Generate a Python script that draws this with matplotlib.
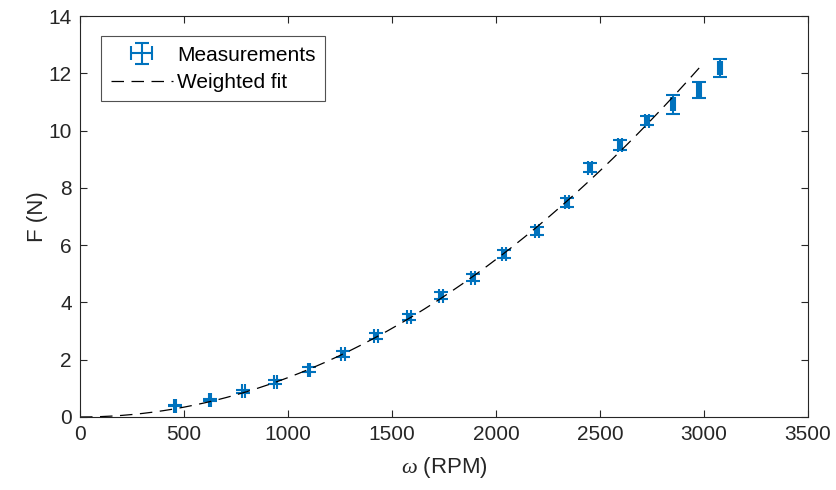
import matplotlib
matplotlib.use("Agg")
import matplotlib.pyplot as plt
import numpy as np

# measured thrust vs rotor speed
rpm = [457, 625, 784, 938, 1101, 1264, 1423, 1582, 1736, 1889,
       2038, 2197, 2341, 2452, 2596, 2726, 2851, 2976, 3077]
force = [0.40, 0.60, 0.90, 1.22, 1.65, 2.20, 2.83, 3.50, 4.23, 4.87,
         5.70, 6.50, 7.50, 8.70, 9.50, 10.35, 10.92, 11.42, 12.20]
rpm_err = [6, 6, 7, 7, 7, 8, 8, 8, 8, 8,
           8, 8, 8, 8, 8, 8, 8, 8, 10]
force_err = [0.03, 0.04, 0.05, 0.07, 0.08, 0.09, 0.10, 0.11, 0.12, 0.12,
             0.13, 0.15, 0.15, 0.16, 0.16, 0.16, 0.33, 0.28, 0.31]

# weighted fit F = k * w^2 (coefficient)
fit_k = 1.376e-6
fit_max = 3000

plt.rcParams['font.family'] = ['Liberation Sans', 'DejaVu Sans']
plt.rcParams['mathtext.fontset'] = 'custom'
plt.rcParams['mathtext.it'] = 'Liberation Serif:italic'

blue = '#0072BD'
grey = '#262626'

fig = plt.figure(figsize=(8.37, 4.90), dpi=100)
ax = fig.add_axes([0.0956, 0.149, 0.8698, 0.818])

meas = ax.errorbar(rpm, force, yerr=force_err, xerr=rpm_err, fmt='none',
                   ecolor=blue, elinewidth=1.5, capsize=4.7, capthick=1.5)

w = np.linspace(0, fit_max, 300)
fit, = ax.plot(w, fit_k * w ** 2, color='k', lw=0.9, dashes=(10, 6))

ax.set_xlim(0, 3500)
ax.set_ylim(0, 14)
ax.set_xticks(np.arange(0, 3501, 500))
ax.set_yticks(np.arange(0, 15, 2))
ax.tick_params(direction='in', top=True, right=True, length=5,
               width=0.8, colors=grey, labelsize=15, pad=6)
for s in ax.spines.values():
    s.set_color(grey)
    s.set_linewidth(0.8)

ax.set_xlabel(r'$\omega$ (RPM)', fontsize=16, color=grey, labelpad=8)
ax.set_ylabel('F (N)', fontsize=16, color=grey, labelpad=0)

leg = ax.legend([meas, fit], ['Measurements', 'Weighted fit'],
                loc='upper left', bbox_to_anchor=(0.029, 0.95),
                borderaxespad=0, fancybox=False, edgecolor=grey,
                fontsize=15, handlelength=3.0, handletextpad=0.2,
                borderpad=0.45, labelspacing=0.4)
leg.get_frame().set_linewidth(0.8)

fig.savefig('out.png', dpi=100)
